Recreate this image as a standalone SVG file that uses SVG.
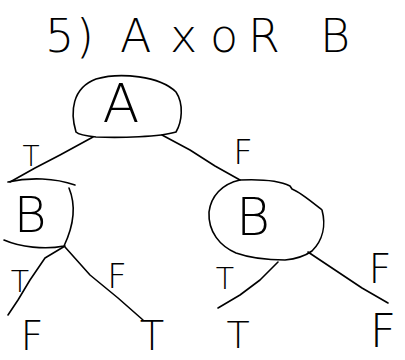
<svg xmlns="http://www.w3.org/2000/svg" width="405" height="360" viewBox="0 0 405 360">
<style>
.ln{fill:none;stroke:#000;stroke-width:1.6;stroke-linecap:round;stroke-linejoin:round}
text{font-family:"DejaVu Sans","Liberation Sans",sans-serif;font-weight:200;fill:#000;text-anchor:middle}
#title text{text-anchor:start}
</style>
<rect width="405" height="360" fill="#fff"/>
<g id="title"><text y="52" font-size="46"><tspan x="45">5</tspan><tspan x="76">)</tspan><tspan x="120">A</tspan><tspan x="170">x</tspan><tspan x="210">o</tspan><tspan x="248">R</tspan><tspan x="320">B</tspan></text></g>
<g id="nodeA">
<path class="ln" d="M76,132 C70,112 72,88 96,79 C120,72 160,76 176,92 C184,104 182,122 176,132 C160,137 120,138 96,137 C86,136 79,135 76,132"/>
<text x="121" y="122" font-size="54">A</text>
</g>
<g id="nodeB1">
<path class="ln" d="M8,182 C30,177 55,178 75,185"/>
<path class="ln" d="M69,188 C76,205 74,225 64,246 C45,250 20,247 4,240"/>
<text x="30" y="232" font-size="50">B</text>
</g>
<g id="nodeB2">
<path class="ln" d="M240,180 C262,179 280,181 290,186 L292,189 C300,192 312,202 322,210 C326,225 323,240 312,251 C305,256 295,259 285,260 C270,260 250,258 236,253 C220,246 208,232 209,212 C211,196 222,184 240,180"/>
<text x="253" y="235" font-size="52">B</text>
</g>
<g id="leafF1"><text x="32" y="350" font-size="40">F</text></g>
<g id="leafT1"><text x="152" y="350" font-size="40">T</text></g>
<g id="leafT2"><text x="238" y="348" font-size="38">T</text></g>
<g id="leafF2"><text x="383" y="347" font-size="46">F</text></g>
<g id="connectors">
<path class="ln" d="M93,137 L60,155 L35,168 L10,182"/>
<path class="ln" d="M162,135 L190,150 L215,166 L240,180"/>
<path class="ln" d="M65,246 L45,258 L30,280 L18,300 L8,315"/>
<path class="ln" d="M65,247 L90,275 L118,298 L143,320"/>
<path class="ln" d="M278,262 L260,280 L240,295 L218,308"/>
<path class="ln" d="M308,252 L335,270 L362,288 L388,303"/>
</g>
<g id="labels">
<text x="31" y="166" font-size="28">T</text>
<text x="243" y="164" font-size="34">F</text>
<text x="20" y="292" font-size="30">T</text>
<text x="117" y="288" font-size="34">F</text>
<text x="225" y="289" font-size="30">T</text>
<text x="380" y="283" font-size="40">F</text>
</g>
</svg>
